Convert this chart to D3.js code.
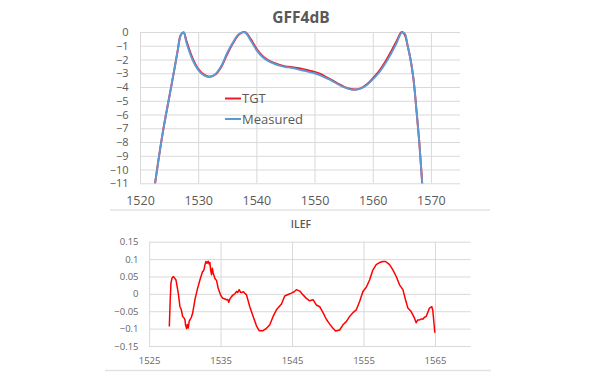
<!DOCTYPE html>
<html>
<head>
<meta charset="utf-8">
<script src="https://cdn.jsdelivr.net/npm/d3@7"></script>
<style>
    body { margin: 0; background: #fff; }
    text { font-family: "Open Sans", "Liberation Sans", sans-serif; }
</style>
</head>
<body>
<div id="chart-area"></div>
<script>
// ---- data: GFF4dB (top chart)
var gffWl = [1522, 1523, 1524, 1525, 1526, 1526.5, 1527, 1527.5, 1528, 1529, 1530, 1531, 1532, 1533,
    1534, 1535, 1536, 1537, 1538, 1539, 1540, 1541, 1542, 1543, 1544, 1545, 1546,
    1547, 1548, 1549, 1550, 1551, 1552, 1553, 1554, 1555, 1556, 1557, 1558, 1559,
    1560, 1561, 1562, 1563, 1564, 1565, 1565.5, 1566, 1566.5, 1567, 1567.5, 1568, 1568.5, 1569];
var tgtVal = [-12.8, -9.8, -7.1, -4.8, -2.5, -1.3, -0.22, -0.03, -0.68, -1.88, -2.68, -3.1, -3.25, -3.07,
    -2.5, -1.6, -0.8, -0.18, 0, -0.5, -1.2, -1.72, -2.05, -2.25, -2.4, -2.5, -2.55,
    -2.62, -2.7, -2.8, -2.9, -3.05, -3.28, -3.5, -3.75, -3.97, -4.12, -4.18, -4.08, -3.8,
    -3.38, -2.9, -2.28, -1.55, -0.75, 0, -0.2, -1.0, -2.0, -3.4, -5.6, -8, -11, -14];
var measuredVal = [-12.8, -9.8, -7.1, -4.8, -2.5, -1.3, -0.25, -0.02, -0.8, -2.0, -2.75, -3.15, -3.25, -3.05,
    -2.45, -1.5, -0.75, -0.15, -0.02, -0.6, -1.3, -1.8, -2.1, -2.3, -2.45, -2.55, -2.6,
    -2.7, -2.8, -2.9, -3.0, -3.15, -3.35, -3.55, -3.8, -4.0, -4.15, -4.2, -4.1, -3.85,
    -3.45, -3.0, -2.4, -1.7, -0.9, -0.05, -0.1, -1.0, -2.0, -3.4, -5.6, -8, -11, -14];
var gffXTicks = [1520, 1530, 1540, 1550, 1560, 1570];
var gffYTicks = [0, -1, -2, -3, -4, -5, -6, -7, -8, -9, -10, -11];

// ---- data: ILEF (bottom chart)
var ilefWl = [1527.83, 1527.95, 1528.06, 1528.2, 1528.39, 1528.55, 1528.76, 1529.08, 1529.32,
    1529.5, 1529.69, 1529.85, 1530.02, 1530.1, 1530.25, 1530.35, 1530.48, 1530.6, 1530.71,
    1530.9, 1531.09, 1531.41, 1531.74, 1532.11, 1532.48, 1532.6, 1532.67, 1532.8, 1532.95,
    1533.1, 1533.27, 1533.4, 1533.51, 1533.6, 1533.74, 1533.85, 1533.97, 1534.2, 1534.44,
    1534.67, 1535.0, 1535.2, 1535.37, 1535.6, 1535.83, 1536.0, 1536.15, 1536.3, 1536.53,
    1536.77, 1537.0, 1537.23, 1537.4, 1537.6, 1537.8, 1537.93, 1538.2, 1538.39, 1538.63,
    1539.09, 1539.56, 1540.02, 1540.4, 1540.95, 1541.42, 1541.89, 1542.35, 1542.82, 1543.52,
    1543.98, 1544.45, 1544.91, 1545.3, 1545.61, 1546.08, 1546.54, 1547.01, 1547.47, 1547.94,
    1548.2, 1548.4, 1548.87, 1549.34, 1549.8, 1550.27, 1550.73, 1551.1, 1551.66, 1552.13,
    1552.59, 1553.06, 1553.53, 1553.99, 1554.46, 1554.92, 1555.39, 1555.85, 1556.32, 1556.78,
    1557.25, 1557.72, 1558.09, 1558.65, 1559.11, 1559.58, 1560.04, 1560.51, 1560.88, 1561.21,
    1561.67, 1562.14, 1562.37, 1562.6, 1562.84, 1563.1, 1563.3, 1563.5, 1563.77, 1564.23,
    1564.56, 1564.7, 1564.98];
var ilefVal = [-0.094, -0.02, 0.031, 0.045, 0.050, 0.046, 0.040, 0.002, -0.037,
    -0.045, -0.065, -0.068, -0.075, -0.09, -0.100, -0.088, -0.098, -0.08, -0.075,
    -0.068, -0.056, -0.017, 0.012, 0.040, 0.064, 0.066, 0.069, 0.082, 0.093,
    0.088, 0.094, 0.086, 0.090, 0.070, 0.055, 0.074, 0.060, 0.045, 0.038,
    0.016, -0.003, -0.010, -0.013, -0.015, -0.017, -0.016, -0.024, -0.015, -0.008,
    -0.003, 0.000, 0.007, 0.004, 0.012, 0.004, 0.004, 0.006, 0.002, -0.003,
    -0.037, -0.065, -0.092, -0.106, -0.106, -0.099, -0.089, -0.065, -0.046, -0.029,
    -0.006, -0.002, 0.002, 0.006, 0.012, 0.008, -0.003, -0.013, -0.020, -0.017,
    -0.025, -0.032, -0.037, -0.054, -0.073, -0.087, -0.099, -0.107, -0.104, -0.089,
    -0.080, -0.065, -0.054, -0.046, -0.022, 0.007, 0.019, 0.040, 0.069, 0.084,
    0.090, 0.093, 0.093, 0.084, 0.069, 0.050, 0.026, 0.012, -0.017, -0.041,
    -0.051, -0.070, -0.083, -0.075, -0.075, -0.072, -0.073, -0.068, -0.065, -0.041,
    -0.037, -0.048, -0.112];
var ilefXTicks = [1525, 1535, 1545, 1555, 1565];
var ilefYTicks = [0.15, 0.1, 0.05, 0, -0.05, -0.1, -0.15];

var width = 600, height = 383;
var gridColor = "#d9d9d9";

var svg = d3.select("#chart-area")
    .append("svg")
    .attr("width", width)
    .attr("height", height);

// frame lines between / below the charts
svg.append("line")
    .attr("x1", 110).attr("x2", 490).attr("y1", 210).attr("y2", 210)
    .attr("stroke", "#e3e3e3").attr("stroke-width", 1.5);
svg.append("line")
    .attr("x1", 105).attr("x2", 491).attr("y1", 370.5).attr("y2", 370.5)
    .attr("stroke", "#e3e3e3").attr("stroke-width", 1.5);

// ================= top chart =================
var x1 = d3.scaleLinear().domain([1520, 1575]).range([140, 460]);
var y1 = d3.scaleLinear().domain([-11, 0]).range([183.3, 32]);

var gTop = svg.append("g");

gTop.append("text")
    .attr("x", 301)
    .attr("y", 18)
    .attr("dy", "0.35em")
    .attr("text-anchor", "middle")
    .attr("font-size", "15.5px")
    .attr("font-weight", "bold")
    .attr("fill", "#595959")
    .text("GFF4dB");

gTop.append("g")
    .attr("class", "grid")
    .attr("transform", "translate(0," + y1(-11) + ")")
    .call(d3.axisBottom(x1).tickValues(gffXTicks).tickSize(-(y1(-11) - y1(0))).tickFormat(""))
    .call(g => g.select(".domain").remove())
    .selectAll("line").attr("stroke", gridColor);

gTop.append("g")
    .attr("class", "grid")
    .attr("transform", "translate(" + x1(1520) + ",0)")
    .call(d3.axisLeft(y1).tickValues(gffYTicks).tickSize(-(x1(1575) - x1(1520))).tickFormat(""))
    .call(g => g.select(".domain").remove())
    .selectAll("line").attr("stroke", gridColor);

gTop.append("g")
    .attr("transform", "translate(0,201)")
    .call(d3.axisBottom(x1).tickValues(gffXTicks).tickSize(0).tickPadding(0).tickFormat(d3.format("d")))
    .call(g => g.select(".domain").remove())
    .selectAll("text")
        .attr("y", 0)
        .attr("dy", "0.35em")
        .attr("font-size", "12.5px")
        .attr("fill", "#595959");

gTop.append("g")
    .attr("transform", "translate(128.5,0)")
    .call(d3.axisLeft(y1).tickValues(gffYTicks).tickSize(0).tickPadding(0).tickFormat(d3.format("d")))
    .call(g => g.select(".domain").remove())
    .selectAll("text")
        .attr("font-family", "'Liberation Sans', Arial, sans-serif")
        .attr("font-size", "11px")
        .attr("fill", "#595959");

svg.append("clipPath")
    .attr("id", "clip-top")
    .append("rect")
    .attr("x", x1(1520)).attr("y", y1(0) - 3)
    .attr("width", x1(1575) - x1(1520))
    .attr("height", y1(-11) - y1(0) + 3);

var gffLine = d3.line()
    .x(d => x1(d[0]))
    .y(d => y1(d[1]))
    .curve(d3.curveCatmullRom.alpha(0.5));

gTop.append("path")
    .datum(d3.zip(gffWl, tgtVal))
    .attr("clip-path", "url(#clip-top)")
    .attr("fill", "none")
    .attr("stroke", "#ee1c2e")
    .attr("stroke-width", 2)
    .attr("d", gffLine);

gTop.append("path")
    .datum(d3.zip(gffWl, measuredVal))
    .attr("clip-path", "url(#clip-top)")
    .attr("fill", "none")
    .attr("stroke", "#5b9bd5")
    .attr("stroke-width", 1.9)
    .attr("d", gffLine);

// legend
var legendItems = [
    { name: "TGT", color: "#ee1c2e", y: 98.5 },
    { name: "Measured", color: "#5b9bd5", y: 119 }
];
var legend = gTop.selectAll(".legend")
    .data(legendItems)
    .enter()
    .append("g")
    .attr("class", "legend")
    .attr("transform", d => "translate(225," + d.y + ")");
legend.append("line")
    .attr("x1", 0).attr("x2", 16)
    .attr("stroke", d => d.color)
    .attr("stroke-width", 2);
legend.append("text")
    .attr("x", 17)
    .attr("dy", "0.35em")
    .attr("font-size", "13px")
    .attr("fill", "#595959")
    .text(d => d.name);

// ================= bottom chart =================
var x2 = d3.scaleLinear().domain([1525, 1570]).range([149.1, 470.7]);
var y2 = d3.scaleLinear().domain([-0.15, 0.15]).range([346, 241.7]);

var gBottom = svg.append("g");

gBottom.append("text")
    .attr("x", 301)
    .attr("y", 224)
    .attr("dy", "0.35em")
    .attr("text-anchor", "middle")
    .attr("font-size", "10.5px")
    .attr("font-weight", 600)
    .attr("fill", "#595959")
    .text("ILEF");

gBottom.append("g")
    .attr("transform", "translate(0," + y2(-0.15) + ")")
    .call(d3.axisBottom(x2).tickValues(ilefXTicks).tickSize(-(y2(-0.15) - y2(0.15))).tickFormat(""))
    .call(g => g.select(".domain").remove())
    .selectAll("line").attr("stroke", gridColor);

gBottom.append("g")
    .attr("transform", "translate(" + x2(1525) + ",0)")
    .call(d3.axisLeft(y2).tickValues(ilefYTicks).tickSize(-(x2(1570) - x2(1525))).tickFormat(""))
    .call(g => g.select(".domain").remove())
    .selectAll("line").attr("stroke", gridColor);

gBottom.append("g")
    .attr("transform", "translate(0,360.5)")
    .call(d3.axisBottom(x2).tickValues(ilefXTicks).tickSize(0).tickPadding(0).tickFormat(d3.format("d")))
    .call(g => g.select(".domain").remove())
    .selectAll("text")
        .attr("y", 0)
        .attr("dy", "0.35em")
        .attr("font-size", "9.5px")
        .attr("fill", "#666");

gBottom.append("g")
    .attr("transform", "translate(138.5,0)")
    .call(d3.axisLeft(y2).tickValues(ilefYTicks).tickSize(0).tickPadding(0).tickFormat(d => d3.format("")(+d.toFixed(2))))
    .call(g => g.select(".domain").remove())
    .selectAll("text")
        .attr("font-size", "9.5px")
        .attr("fill", "#666");

gBottom.append("path")
    .datum(d3.zip(ilefWl, ilefVal))
    .attr("fill", "none")
    .attr("stroke", "#ff0000")
    .attr("stroke-width", 1.5)
    .attr("stroke-linejoin", "round")
    .attr("d", d3.line().x(d => x2(d[0])).y(d => y2(d[1])));
</script>
</body>
</html>
